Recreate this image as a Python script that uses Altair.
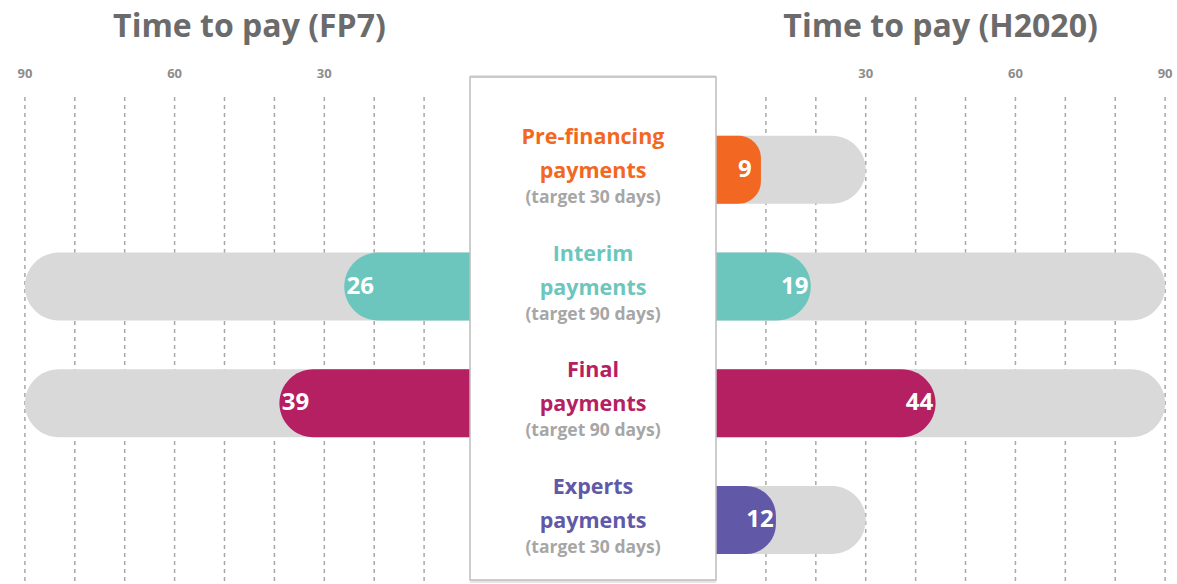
import altair as alt
import pandas as pd

# ---------------- data ----------------
categories = ["Pre-financing", "Interim", "Final", "Experts"]
fp7_days = [None, 26, 39, None]
h2020_days = [9, 19, 44, 12]
targets = [30, 90, 90, 30]
series_colors = ["#F26722", "#6CC6BD", "#B52063", "#6159A8"]
sides = ["FP7", "H2020"]
titles = ["Time to pay (FP7)", "Time to pay (H2020)"]
tick_labels = [90, 60, 30]
grid_days = [10, 20, 30, 40, 50, 60, 70, 80, 90]

GAP = 48.5  # width of the central label box, in day units
FONT = "Open Sans"

rows = []
for i, c in enumerate(categories):
    for side, vals in (("FP7", fp7_days), ("H2020", h2020_days)):
        v = vals[i]
        if v is None:
            continue
        rows.append(dict(category=c, side=side, days=v, target=targets[i],
                         color=series_colors[i]))
bars = pd.DataFrame(rows)

labels = pd.DataFrame(dict(category=categories, color=series_colors,
                           target=[f"(target {t} days)" for t in targets]))
ticks = pd.DataFrame([dict(side=s, days=t) for s in sides for t in tick_labels])
grid = pd.DataFrame([dict(side=s, days=g) for s in sides for g in grid_days])
title_df = pd.DataFrame(dict(side=sides, title=titles, days=[45, 45]))

pos_expr = f"datum.side == 'FP7' ? -datum.days : {GAP} + datum.days"
tgt_expr = f"datum.side == 'FP7' ? -datum.target : {GAP} + datum.target"
base_expr = f"datum.side == 'FP7' ? 0 : {GAP}"

W, H = 1177, 584
xscale = alt.Scale(domain=[-94.99, 140.88], nice=False, zero=False)
yscale = alt.Scale(domain=categories, paddingInner=0.417, paddingOuter=0.71, align=0.819)

X = lambda f: alt.X(f, type="quantitative", scale=xscale, axis=None)
Y = alt.Y("category:N", scale=yscale, axis=None, sort=categories)

# grid lines
grid_layer = alt.Chart(grid).transform_calculate(pos=pos_expr).mark_rule(
    color="#a8a8a8", strokeDash=[4, 4], strokeWidth=1.5
).encode(x=X("pos"), y=alt.value(97), y2=alt.value(H))

# tick labels
tick_layer = alt.Chart(ticks).transform_calculate(pos=pos_expr).mark_text(
    font=FONT, fontSize=13, fontWeight="bold", color="#8c8c8c", baseline="middle"
).encode(x=X("pos"), y=alt.value(74), text="days:Q")

# titles
title_layer = alt.Chart(title_df).transform_calculate(pos=pos_expr).mark_text(
    font=FONT, fontSize=32, fontWeight="bold", color="#6b6b6b", baseline="middle"
).encode(x=X("pos"), y=alt.value(27), text="title:N")

base = alt.Chart(bars).transform_calculate(pos=pos_expr, tpos=tgt_expr, base=base_expr)
left = base.transform_filter("datum.side == 'FP7'")
right = base.transform_filter("datum.side == 'H2020'")

R = 34
gray_left = left.mark_bar(color="#D9D9D9", cornerRadiusTopLeft=R, cornerRadiusBottomLeft=R).encode(
    x=X("tpos"), x2="base:Q", y=Y)
gray_right = right.mark_bar(color="#D9D9D9", cornerRadiusTopRight=R, cornerRadiusBottomRight=R).encode(
    x=X("base"), x2="tpos:Q", y=Y)
col_left = left.mark_bar(cornerRadiusTopLeft=R, cornerRadiusBottomLeft=R).encode(
    x=X("pos"), x2="base:Q", y=Y, color=alt.Color("color:N", scale=None))
col_right = right.mark_bar(cornerRadiusTopRight=R, cornerRadiusBottomRight=R).encode(
    x=X("base"), x2="pos:Q", y=Y, color=alt.Color("color:N", scale=None))

val_left = left.mark_text(font=FONT, fontSize=24, fontWeight="bold", color="white",
                          dx=16, baseline="middle").encode(x=X("pos"), y=Y, text="days:Q")
val_right = right.mark_text(font=FONT, fontSize=24, fontWeight="bold", color="white",
                            dx=-16, baseline="middle").encode(x=X("pos"), y=Y, text="days:Q")

# central box
box_df = pd.DataFrame(dict(x0=[-0.8], x1=[GAP]))
box_shadow = alt.Chart(box_df).mark_rect(fill="black", opacity=0.10).encode(
    x=X("x0"), x2="x1:Q", y=alt.value(75), y2=alt.value(583))
box = alt.Chart(box_df).mark_rect(fill="white", stroke="#bdbdbd", strokeWidth=1.5).encode(
    x=X("x0"), x2="x1:Q", y=alt.value(77), y2=alt.value(580))

lbl = alt.Chart(labels).transform_calculate(cx=f"{GAP / 2 - 0.4}")
name_t = lbl.mark_text(font=FONT, fontSize=21.5, fontWeight="bold", dy=-32, baseline="middle").encode(
    x=X("cx"), y=Y, text="category:N", color=alt.Color("color:N", scale=None))
pay_t = lbl.mark_text(font=FONT, fontSize=21.5, fontWeight="bold", dy=2, baseline="middle").encode(
    x=X("cx"), y=Y, text=alt.value("payments"), color=alt.Color("color:N", scale=None))
tgt_t = lbl.mark_text(font=FONT, fontSize=17.5, fontWeight="bold", dy=28, baseline="middle",
                      color="#A6A6A6").encode(x=X("cx"), y=Y, text="target:N")

chart = alt.layer(
    grid_layer, tick_layer, title_layer,
    gray_left, gray_right, col_left, col_right, val_left, val_right,
    box_shadow, box, name_t, pay_t, tgt_t,
).properties(width=W, height=H, padding=0, autosize=alt.AutoSizeParams(type="none"),
             background="white").configure_view(stroke=None)

chart.save("out.html", embed_options={"renderer": "svg", "actions": False})
